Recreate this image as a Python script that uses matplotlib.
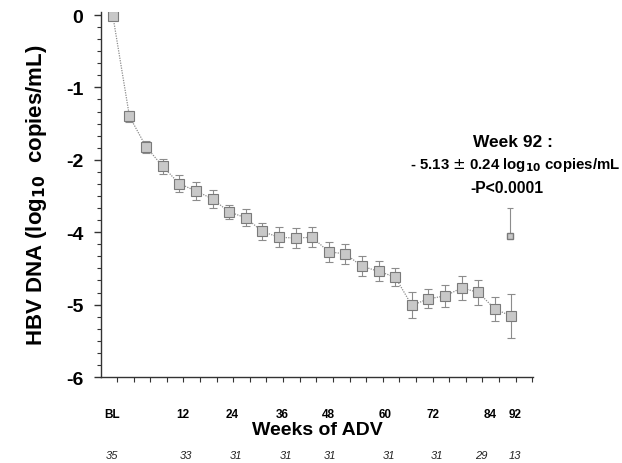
import numpy as np
import matplotlib
matplotlib.use("Agg")
import matplotlib.pyplot as plt
from matplotlib.ticker import FixedLocator, MultipleLocator

plt.rcParams["font.family"] = ["Liberation Sans", "DejaVu Sans"]

# visits every 4 weeks, values on the drawn axis scale
visit = np.arange(25)
hbv = [-0.01, -1.40, -1.82, -2.09, -2.33, -2.43, -2.54, -2.72, -2.80, -2.99,
       -3.07, -3.08, -3.07, -3.27, -3.30, -3.47, -3.54, -3.62, -4.01, -3.92,
       -3.88, -3.77, -3.83, -4.06, -4.16]
err = [0.05, 0.08, 0.08, 0.10, 0.12, 0.12, 0.12, 0.10, 0.12, 0.12,
       0.14, 0.14, 0.14, 0.14, 0.14, 0.14, 0.14, 0.12, 0.18, 0.13,
       0.15, 0.17, 0.17, 0.17, 0.30]
extra_visit, extra_val, extra_up = 23.9, -3.05, 0.39

ytick_labels = ["0", "-1", "-2", "-4", "-5", "-6"]
week_labels = ["BL", "12", "24", "36", "48", "60", "72", "84", "92"]
week_pos = [-0.06, 4.22, 7.17, 10.2, 12.95, 16.4, 19.3, 22.7, 24.2]
n_pat = ["35", "33", "31", "31", "31", "31", "31", "29", "13"]
n_pos = [-0.06, 4.4, 7.4, 10.4, 13.1, 16.6, 19.5, 22.2, 24.2]

fig = plt.figure(figsize=(6.22, 4.64), dpi=100)
ax = fig.add_axes([0.163, 0.1853, 0.694, 0.7866])

grey = "#8c8c8c"
ax.errorbar(visit, hbv, yerr=err, fmt="-", ls=(0, (1, 1)), color=grey, lw=0.9,
            elinewidth=0.8, capsize=3, capthick=0.8, zorder=2)
ax.plot(visit, hbv, "s", ms=7, mfc="#c8c8c8", mec="#7a7a7a", mew=0.8, zorder=3)
ax.errorbar([extra_visit], [extra_val], yerr=[[0], [extra_up]], fmt="s", ms=5,
            mfc="#c8c8c8", mec="#7a7a7a", ecolor=grey, elinewidth=0.8,
            capsize=2, capthick=0.8, ls="none")

ax.set_xlim(-0.69, 25.3)
ax.set_ylim(-5, 0.041)

for s in ["top", "right"]:
    ax.spines[s].set_visible(False)
for s in ["left", "bottom"]:
    ax.spines[s].set_linewidth(1.0)
    ax.spines[s].set_color("#333333")

ax.set_yticks(range(0, -6, -1))
ax.set_yticklabels(ytick_labels, fontsize=14, fontweight="bold")
ax.yaxis.set_minor_locator(MultipleLocator(1 / 6))
ax.tick_params(axis="y", which="major", length=5, width=1, pad=8, color="#333333")
ax.tick_params(axis="y", which="minor", length=3, width=0.8, color="#333333")

ax.set_xticks(week_pos)
ax.set_xticklabels(week_labels, fontsize=8.5, fontweight="bold")
ax.tick_params(axis="x", which="major", length=0, pad=22)
ax.xaxis.set_minor_locator(FixedLocator(np.arange(0.25, 25.3, 1.0)))
ax.tick_params(axis="x", which="minor", length=3.5, width=0.8, color="#333333")

ax.set_xlabel("Weeks of ADV", fontsize=14, fontweight="bold", labelpad=1)
ax.set_ylabel(r"HBV DNA (log$_{\mathbf{10}}$  copies/mL)", fontsize=16,
              fontweight="bold", labelpad=12)

px = 72.4  # pixels per unit on the y axis
for p, t in zip(n_pos, n_pat):
    ax.text(p, -5 - (456 - 378) / px, t, fontsize=8, style="italic",
            ha="center", va="center", color="#222222")

ax.text(24.1, -1.75, "Week 92 :", fontsize=12.5, fontweight="bold",
        ha="center", va="center")
ax.text(24.2, -2.06, r"- 5.13 $\pm$ 0.24 log$_{\mathbf{10}}$ copies/mL", fontsize=10.8,
        fontweight="bold", ha="center", va="center")
ax.text(23.7, -2.38, "-P<0.0001", fontsize=11.3, fontweight="bold",
        ha="center", va="center")

fig.savefig("out.png", dpi=100)
